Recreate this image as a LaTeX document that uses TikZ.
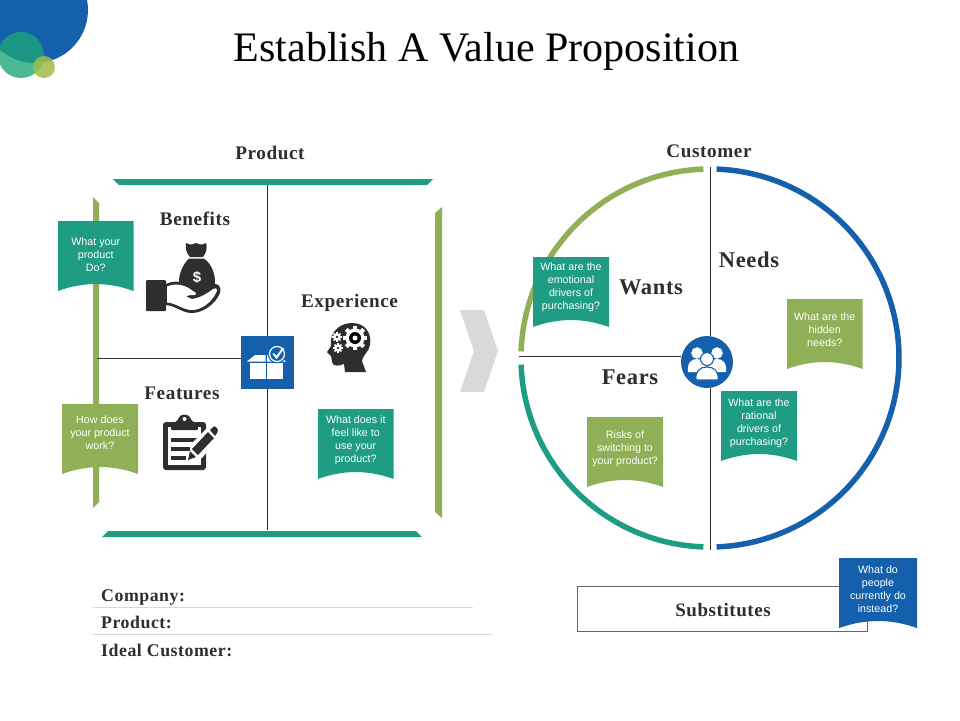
\documentclass[tikz,border=0pt]{standalone}
\usepackage{fontspec}
\setmainfont{Liberation Serif}
\newfontfamily\bannerfont{Liberation Sans}
\newfontfamily\headfont[LetterSpace=3]{Liberation Serif}
\usetikzlibrary{calc}
\definecolor{tealc}{HTML}{1F9C84}
\definecolor{greenc}{HTML}{8FB056}
\definecolor{bluec}{HTML}{1560AC}
\definecolor{darkc}{HTML}{2E2E2E}
\definecolor{chev}{HTML}{D9D9D9}
\tikzset{
  head/.style={font=\headfont\fontsize{#1}{#1}\selectfont\bfseries, text=darkc, inner sep=0pt},
  head/.default=19.2,
  bantext/.style={font=\bannerfont\fontsize{10.7}{13}\selectfont, text=white, align=center, inner sep=0pt},
  rule/.style={draw=darkc, line width=0.8pt},
  sep/.style={draw=black!15, line width=0.7pt},
  ring/.style={line width=5.5pt, line join=round},
  icon/.style={fill=darkc, draw=none}
}
% name, x, y, width, colour, text centre offset, text
\newcommand\banner[7]{%
  \fill[#5] (#2,#3) -- ++(#4,0) -- ++(0,70)
    .. controls +(-#4/3,-9.3) and +(#4/3,-9.3) .. ++(-#4,0) -- cycle;
  \node[bantext] (#1) at ($(#2,#3)+(#4/2,#6)$) {#7};
}
\newcommand\cog[4]{% x y radius colour
  \foreach \a in {0,45,...,315}{\fill[#4,shift={(#1,#2)},rotate=\a] (-#3*0.22,0) rectangle (#3*0.22,#3*1.3);}
  \fill[#4] (#1,#2) circle[radius=#3];
}
\begin{document}
\begin{tikzpicture}[x=1pt,y=-1pt]
\useasboundingbox (0,0) rectangle (960,720);
\fill[white] (0,0) rectangle (960,720);
% corner circles
\begin{scope}
\clip (0,0) rectangle (960,720);
\fill[bluec] (35,10) circle[radius=53];
\fill[tealc!90!green,fill opacity=0.78] (21,55) circle[radius=23];
\fill[greenc!85!yellow,fill opacity=0.85] (44,67) circle[radius=11];
\end{scope}
\node[font=\fontsize{42}{42}\selectfont, text=black, inner sep=0pt] (title) at (486.5,51) {Establish A Value Proposition};
% left frame
\fill[tealc] (113,179) -- (433,179) -- (427,185) -- (119,185) -- cycle;
\fill[tealc] (102,537) -- (422,537) -- (416,531) -- (108,531) -- cycle;
\fill[greenc] (93,197) -- (99,203) -- (99,502) -- (93,508) -- cycle;
\fill[greenc] (442,207) -- (435,213) -- (435,512) -- (442,518) -- cycle;
\node[head] (product) at (270,152.5) {Product};
\node[head] (benefits) at (195,218.5) {Benefits};
\node[head] (experience) at (349.5,302.5) {Experience};
\node[head] (features) at (182,393.5) {Features};
% centre square and quadrant lines
\coordinate (pT) at (267.5,185);
\coordinate (pB) at (267.5,530);
\coordinate (pL) at (97,358);
\node[fill=bluec, minimum width=53pt, minimum height=53pt, inner sep=0pt] (prodicon) at (267.5,362.5) {};
\draw[rule] (pT) -- (prodicon.north);
\draw[rule] (prodicon.south) -- (pB);
\draw[rule] (pL) -- (pL -| prodicon.west);
% box icon
\fill[white] (250,363) rectangle (265.5,379);
\fill[white] (266.8,363) rectangle (283,379);
\fill[white] (247,361.5) -- (255,355) -- (265.5,355) -- (265.5,361.5) -- cycle;
\fill[white] (267,361.5) -- (267,355) -- (279,355) -- (286,361.5) -- cycle;
\fill[bluec] (277,354) circle[radius=9.3];
\draw[white,line width=1.2pt] (277,354) circle[radius=7.5];
\draw[white,line width=2pt,line cap=round] (273.5,354) -- (276.5,357.5) -- (283,348.5);
% money bag and hand
\fill[icon] (186,243) .. controls (190,245) and (192,245) .. (196,243)
   .. controls (200,245) and (202,245) .. (206,243)
   .. controls (208,250) and (205,254) .. (203,257) -- (190,257) .. controls (187,254) and (185,249) .. (186,243) -- cycle;
\fill[icon] (189,258.5) -- (204,258.5) .. controls (212,264) and (215,275) .. (215,281)
   .. controls (215,290) and (208,295) .. (197,295) .. controls (186,295) and (179,290) .. (179,281)
   .. controls (179,274) and (183,264) .. (189,258.5) -- cycle;
\node[font=\bannerfont\bfseries\fontsize{15}{15}\selectfont, text=white, inner sep=0pt] (dollar) at (197,277) {\$};
\fill[icon,rounded corners=1pt] (146,280) rectangle (166,311);
\fill[icon] (166,284) .. controls (174,280) and (184,281) .. (196,288)
   .. controls (203,289) and (208,288) .. (212,285) .. controls (218,282) and (222,287) .. (220,293)
   .. controls (215,305) and (202,313) .. (192,313) .. controls (182,313) and (176,306) .. (166,305) -- cycle;
\fill[white] (167,286.5) .. controls (175,283) and (184,284) .. (193,291)
   .. controls (198,293) and (197,296) .. (190,295) -- (186,296.5) -- (192,299) .. controls (200,298) and (208,293) .. (213,289)
   .. controls (217,287) and (218,290) .. (216,293) .. controls (211,303) and (201,310) .. (192,310)
   .. controls (183,310) and (176,303) .. (167,302.5) -- cycle;
% head with gears
\fill[icon] (366,372) -- (345,372) -- (344,364) .. controls (339,366) and (333,367) .. (332,362) -- (331,356) -- (327,352)
  -- (331,346) .. controls (329,332) and (340,323) .. (352,323) .. controls (365,323) and (372,333) .. (370,345)
  .. controls (369,352) and (362,356) .. (362,361) -- cycle;
\cog{355}{338}{9.5}{white}
\fill[black] (355,338) circle[radius=6];
\fill[white] (355,338) circle[radius=2.5];
\cog{337}{337}{3.8}{white}
\fill[darkc] (337,337) circle[radius=1.3];
\cog{338}{348}{3.8}{white}
\fill[darkc] (338,348) circle[radius=1.3];
% clipboard
\fill[icon,rounded corners=3pt] (163,422) rectangle (206,470);
\fill[white] (168,427) rectangle (201,465);
\fill[icon,rounded corners=1pt] (171,425) -- (178,420) .. controls (179,413) and (190,413) .. (191,420) -- (198,425) -- (198,430) -- (171,430) -- cycle;
\fill[white] (184.5,419) circle[radius=2];
\fill[icon] (171,438) rectangle (198,442);
\fill[icon] (171,447) rectangle (190,451);
\fill[icon] (171,456) rectangle (186,460);
\fill[white] (187,462) -- (192,443) -- (212,423) -- (222,434) -- (202,458) -- cycle;
\fill[icon] (188,460) -- (190,451) -- (196,457) -- cycle;
\fill[icon] (192,449) -- (208,432) -- (214,438) -- (198,455) -- cycle;
\fill[icon] (210,430) -- (213,427) .. controls (214,426) and (215,426) .. (216,427) -- (218,430) .. controls (218,431) and (218,432) .. (217,433) -- (215,436) -- cycle;
% chevron
\fill[chev] (460,310) -- (484,310) -- (498,351) -- (484,392) -- (460,392) -- (474,351) -- cycle;
% customer circle
\coordinate (cT) at (710,167);
\coordinate (cB) at (710,550);
\coordinate (cL) at (519,356);
\node[fill=bluec, circle, minimum size=52pt, inner sep=0pt] (custicon) at (707,362) {};
\draw[rule] (cT) -- (cT |- custicon.north);
\draw[rule] (cB |- custicon.south) -- (cB);
\draw[rule] (cL) -- (cL -| custicon.west);
\draw[ring,bluec] plot[domain=-88:88,samples=140] ({710+189*cos(\x)},{358+189*sin(\x)});
\draw[ring,greenc] (703.4,169.1) arc[start angle=-92, end angle=-178, radius=189];
\draw[ring,tealc] (521.1,364.6) arc[start angle=178, end angle=92, radius=189];
% people icon
\fill[white] (688,372) .. controls (687,362) and (692,359) .. (697,359) .. controls (702,359) and (707,362) .. (707,372) -- cycle;
\fill[white] (707,372) .. controls (707,362) and (712,359) .. (717,359) .. controls (722,359) and (727,362) .. (726,372) -- cycle;
\draw[white,fill=white] (697,353) circle[radius=5.5];
\draw[white,fill=white] (717,353) circle[radius=5.5];
\draw[bluec,fill=white,line width=1.1pt] (707,359) circle[radius=6.5];
\draw[bluec,fill=white,line width=1.1pt] (696,380) .. controls (695,371) and (700,367) .. (707,367) .. controls (714,367) and (719,371) .. (718,380) -- cycle;
\node[head] (customer) at (709,151) {Customer};
\node[head=22.5] (wants) at (651,287) {Wants};
\node[head=22.5] (needs) at (749,260) {Needs};
\node[head=22.5] (fears) at (630,377) {Fears};
% banners
\banner{b1}{58}{221}{75.5}{tealc}{33.5}{What your\\product\\Do?}
\banner{b2}{62}{404}{76}{greenc}{29}{How does\\your product\\work?}
\banner{b3}{318}{409}{75.5}{tealc}{31}{What does it\\feel like to\\use your\\product?}
\banner{b4}{533}{257}{76}{tealc}{30.5}{What are the\\emotional\\drivers of\\purchasing?}
\banner{b5}{787}{299}{75.5}{greenc}{31}{What are the\\hidden\\needs?}
\banner{b6}{721}{391}{76}{tealc}{32}{What are the\\rational\\drivers of\\purchasing?}
\banner{b7}{587}{417}{76}{greenc}{32}{Risks of\\switching to\\your product?}
% bottom left
\coordinate (s1a) at (93,607.5);
\coordinate (s1b) at (473,607.5);
\coordinate (s2a) at (93,634.5);
\coordinate (s2b) at (492,634.5);
\draw[sep] (s1a) -- (s1b);
\draw[sep] (s2a) -- (s2b);
\node[head=17.8,anchor=base west] (company) at (101,601.5) {Company:};
\node[head=17.8,anchor=base west] (prodlabel) at (101,628.5) {Product:};
\node[head=17.8,anchor=base west] (ideal) at (101,656.5) {Ideal Customer:};
% substitutes
\node[draw=black!60, line width=0.8pt, fill=white, minimum width=290pt, minimum height=45pt, inner sep=0pt] (subbox) at (722.5,609) {};
\node[head=19] (subs) at (723,610) {Substitutes};
\banner{b8}{839}{558}{78}{bluec}{31}{What do\\people\\currently do\\instead?}
\end{tikzpicture}
\end{document}
